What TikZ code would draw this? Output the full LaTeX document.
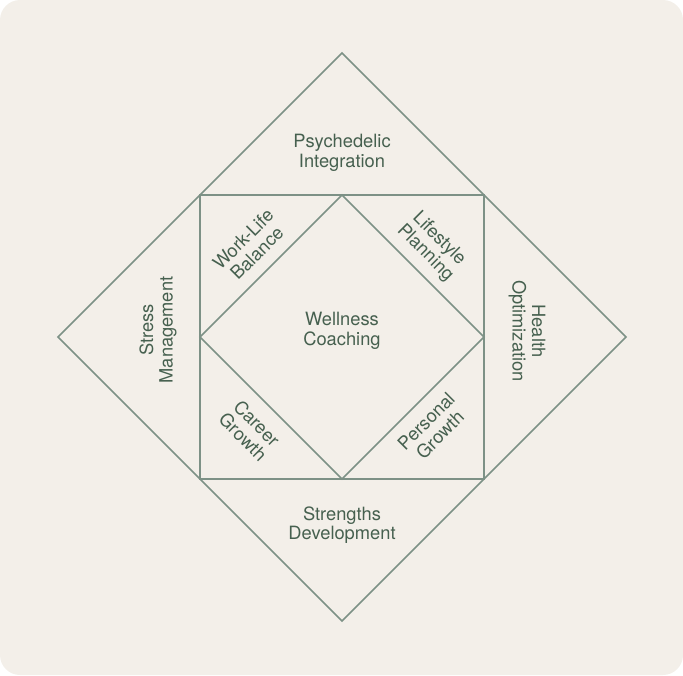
\documentclass[tikz,border=0pt]{standalone}
\usepackage{fontspec}
\setmainfont{TeX Gyre Heros}
\definecolor{bgc}{HTML}{F3EFE9}
\definecolor{linec}{HTML}{7D9186}
\definecolor{textc}{HTML}{46604F}
\begin{document}
\begin{tikzpicture}[x=1pt,y=-1pt,
  shapeline/.style={draw=linec,line width=1.6pt,line join=miter},
  lbl/.style={text=textc,font=\fontsize{18.3}{19.5}\selectfont,align=center,inner sep=0pt}]
\useasboundingbox (0,0) rectangle (683,675);
\fill[bgc,rounded corners=20pt] (0,0) rectangle (683,675);
% outer diamond
\coordinate (OT) at (342,53);
\coordinate (OR) at (626,337);
\coordinate (OB) at (342,621);
\coordinate (OL) at (58,337);
\draw[shapeline] (OT) -- (OR) -- (OB) -- (OL) -- cycle;
% square
\coordinate (S1) at (200,195);
\coordinate (S2) at (484,195);
\coordinate (S3) at (484,479);
\coordinate (S4) at (200,479);
\draw[shapeline] (S1) -- (S2) -- (S3) -- (S4) -- cycle;
% inner diamond
\coordinate (IT) at (342,195);
\coordinate (IR) at (484,337);
\coordinate (IB) at (342,479);
\coordinate (IL) at (200,337);
\draw[shapeline] (IT) -- (IR) -- (IB) -- (IL) -- cycle;
% labels
\node[lbl] (psy) at (342,153) {Psychedelic\\Integration};
\node[lbl] (wel) at (342,331) {Wellness\\Coaching};
\node[lbl] (str) at (342,525) {Strengths\\Development};
\node[lbl,rotate=90] (stress) at (158,330) {Stress\\Management};
\node[lbl,rotate=-90] (health) at (527,331) {Health\\Optimization};
\node[lbl,rotate=45] (wlb) at (250,246) {Work-Life\\Balance};
\node[lbl,rotate=-45] (lp) at (432,246) {Lifestyle\\Planning};
\node[lbl,rotate=-45] (cg) at (250,430) {Career\\Growth};
\node[lbl,rotate=45] (pg) at (433,428) {Personal\\Growth};
\end{tikzpicture}
\end{document}
